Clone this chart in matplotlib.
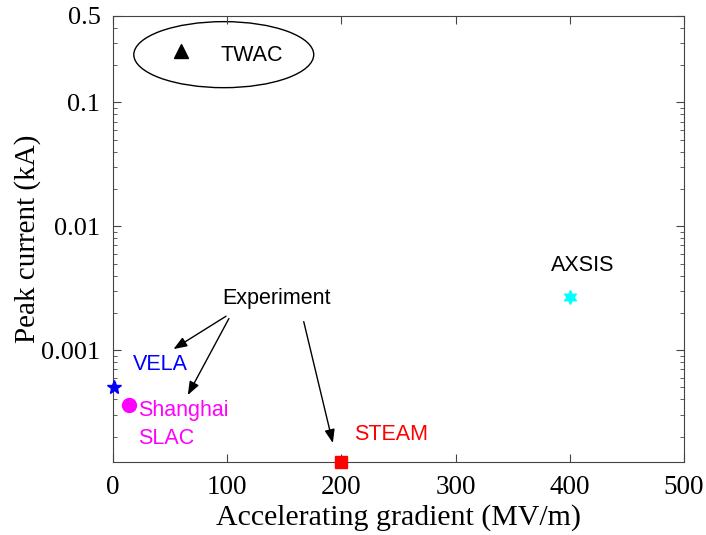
import matplotlib.pyplot as plt
from matplotlib.patches import Ellipse

# accelerator data: gradient (MV/m), peak current (kA)
names = ['TWAC', 'AXSIS', 'VELA', 'Shanghai SLAC', 'STEAM']
gradient = [60, 400, 1, 14, 200]
current = [0.26, 0.0027, 0.0005, 0.00036, 0.000125]
markers = ['^', '*', '*', 'o', 's']
colors = ['black', 'cyan', 'blue', 'magenta', 'red']
msizes = [10, 10, 10, 10, 8]

xticks = [0, 100, 200, 300, 400, 500]
yticks = [0.001, 0.01, 0.1, 0.5]
yticklabels = ['0.001', '0.01', '0.1', '0.5']

plt.rcParams['font.family'] = 'Liberation Serif'
fig = plt.figure(figsize=(7.06, 5.35), dpi=100)
ax = fig.add_axes([0.160, 0.1364, 0.809, 0.834])

for g, c, m, col, s in zip(gradient, current, markers, colors, msizes):
    if m == '*' and col == 'cyan':
        m = (6, 1, 0)
    ax.plot(g, c, marker=m, color=col, markersize=s, linestyle='none', clip_on=False, zorder=5)

ax.set_yscale('log')
ax.set_xlim(0, 500)
ax.set_ylim(1.25e-4, 0.5)
ax.set_xticks(xticks)
ax.set_yticks(yticks)
ax.set_yticklabels(yticklabels)
ax.tick_params(which='both', direction='in', top=True, right=True, labelsize=19.5, color='#444444')
ax.tick_params(axis='y', labelsize=19, pad=9)
ax.tick_params(axis='x', pad=9)
ax.tick_params(which='major', length=6)
ax.tick_params(which='minor', length=3)
ax.minorticks_on()
ax.xaxis.set_minor_locator(plt.NullLocator())
for sp in ax.spines.values():
    sp.set_color('#444444')
ax.set_xlabel('Accelerating gradient (MV/m)', fontsize=21.5, labelpad=3)
ax.set_ylabel('Peak current (kA)', fontsize=21, labelpad=0)

lab = dict(family='Liberation Sans', fontsize=15.5)
ax.text(94, 0.24, 'TWAC', color='black', va='center', **lab)
ax.text(411, 0.0048, 'AXSIS', color='black', va='center', ha='center', **lab)
ax.text(96, 0.0026, 'Experiment', color='black', va='center', **lab)
ax.text(17.5, 0.00076, 'VELA', color='blue', va='center', **lab)
ax.text(22, 0.00025, 'Shanghai\nSLAC', color='magenta', va='center', linespacing=1.45, **lab)
ax.text(211, 0.00021, 'STEAM', color='red', va='center', **lab)

ell = Ellipse((0.194, 0.913), 0.315, 0.148, transform=ax.transAxes,
              fill=False, edgecolor='black', linewidth=1)
ax.add_patch(ell)

arr = dict(arrowstyle='-|>,head_length=0.45,head_width=0.17', color='black',
           lw=1, mutation_scale=18, shrinkA=0, shrinkB=0)
ax.annotate('', xy=(53, 0.00102), xytext=(99, 0.00188), arrowprops=arr)
ax.annotate('', xy=(65.5, 0.000434), xytext=(101.5, 0.0018), arrowprops=arr)
ax.annotate('', xy=(192.5, 0.000178), xytext=(167, 0.0017), arrowprops=arr)

fig.savefig('out.png', dpi=100)
